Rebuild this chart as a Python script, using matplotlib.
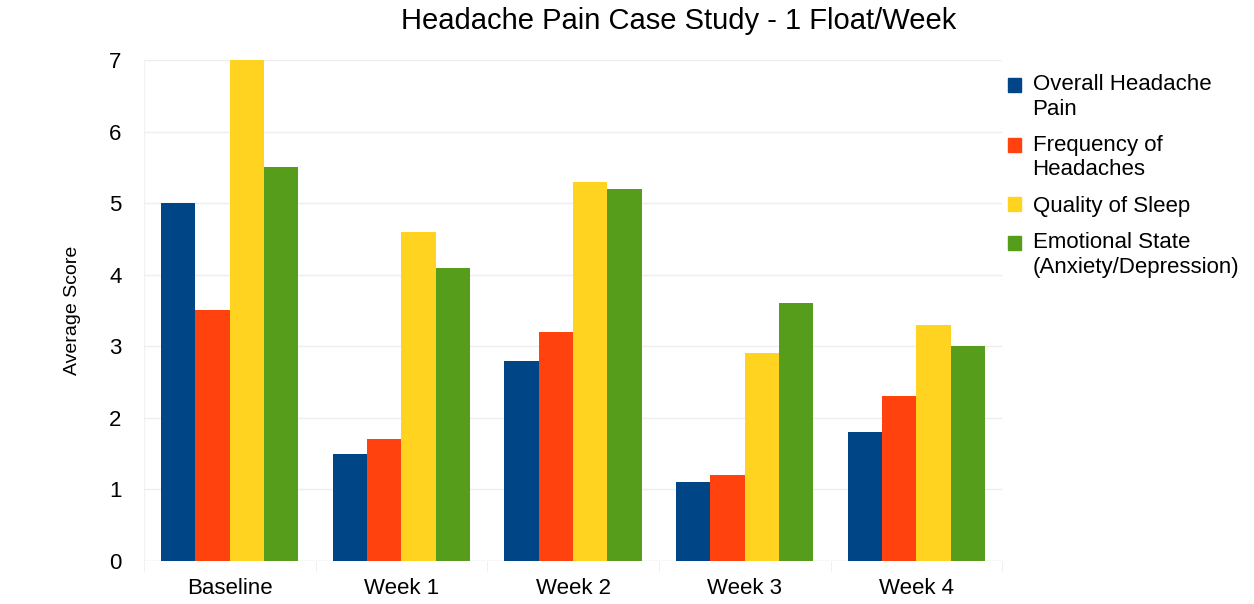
import matplotlib.pyplot as plt
import numpy as np
from matplotlib.legend_handler import HandlerPatch
from matplotlib.patches import Patch, Rectangle

plt.rcParams["font.family"] = ["Liberation Sans", "DejaVu Sans"]

CATEGORIES = ["Baseline", "Week 1", "Week 2", "Week 3", "Week 4"]
SERIES_NAMES = [
    "Overall Headache\nPain",
    "Frequency of\nHeadaches",
    "Quality of Sleep",
    "Emotional State\n(Anxiety/Depression)",
]
OVERALL_PAIN = [5.0, 1.5, 2.8, 1.1, 1.8]
FREQUENCY = [3.5, 1.7, 3.2, 1.2, 2.3]
SLEEP = [7.0, 4.6, 5.3, 2.9, 3.3]
EMOTIONAL = [5.5, 4.1, 5.2, 3.6, 3.0]
COLORS = ["#004586", "#ff420e", "#ffd320", "#579d1c"]


def top_line_square(legend, orig_handle, xdescent, ydescent, width, height, fontsize):
    # put the swatch next to the first line of a two-line label
    return Rectangle((-xdescent, -ydescent + 9), width, height)


def main():
    fig = plt.figure(figsize=(12.54, 6.04), dpi=100)
    ax = fig.add_axes([0.1148, 0.0712, 0.6845, 0.8295])

    series = [OVERALL_PAIN, FREQUENCY, SLEEP, EMOTIONAL]
    x = np.arange(len(CATEGORIES))
    width = 0.2
    for i, (values, color) in enumerate(zip(series, COLORS)):
        offset = (i - 1.5) * width
        ax.bar(x + offset, values, width, color=color, zorder=2)

    ax.set_xlim(-0.5, len(CATEGORIES) - 0.5)
    ax.set_ylim(0, 7)
    ax.set_yticks(range(8))
    ax.set_xticks(x)
    ax.set_xticklabels(CATEGORIES)
    ax.set_xticks(np.arange(-0.5, len(CATEGORIES)), minor=True)

    ax.grid(axis="y", color="#eeeeee", linewidth=1, zorder=0)
    for spine in ax.spines.values():
        spine.set_visible(False)
    ax.axvline(-0.5, color="#f2f2f2", linewidth=1, zorder=0)
    ax.axhline(0, color="#eeeeee", linewidth=1, zorder=0)

    ax.tick_params(axis="x", which="major", length=0, labelsize=16, pad=12)
    ax.tick_params(axis="x", which="minor", length=8, color="#eeeeee")
    ax.tick_params(axis="y", length=0, labelsize=16, pad=16)

    ax.set_ylabel("Average Score", fontsize=14, labelpad=20)
    fig.suptitle("Headache Pain Case Study - 1 Float/Week", fontsize=21,
                 x=0.541, y=0.988)

    handles = [Patch(color=c, label=n) for c, n in zip(COLORS, SERIES_NAMES)]
    handler_map = {
        h: HandlerPatch(patch_func=top_line_square)
        for h, n in zip(handles, SERIES_NAMES)
        if "\n" in n
    }
    fig.legend(
        handles=handles,
        handler_map=handler_map,
        loc="upper left",
        bbox_to_anchor=(0.788, 0.91),
        frameon=False,
        fontsize=16,
        handlelength=0.6,
        handleheight=0.6,
        handletextpad=0.5,
        labelspacing=0.7,
    )

    fig.savefig("out.png", dpi=100)
    plt.close(fig)


if __name__ == "__main__":
    main()
